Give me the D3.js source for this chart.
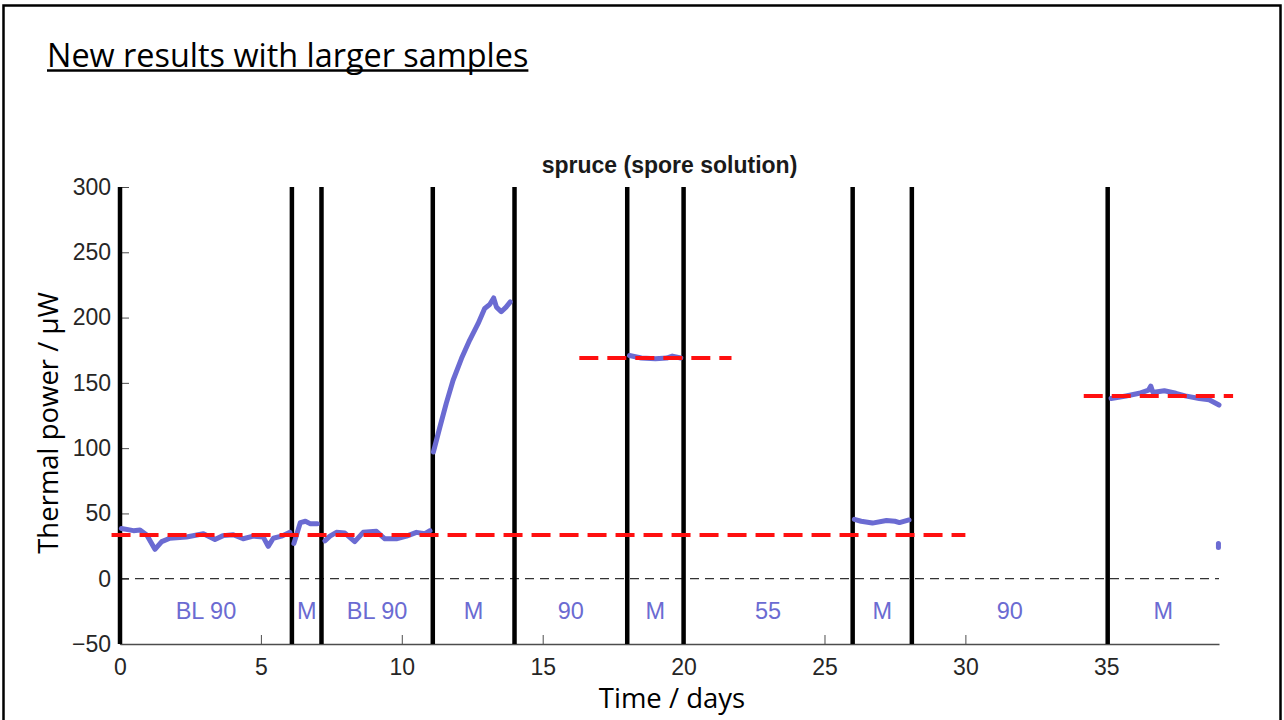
<!DOCTYPE html>
<html>
<head>
<meta charset="utf-8">
<script src="https://cdn.jsdelivr.net/npm/d3@7"></script>
<style>
body { margin: 0; background: #fff; }
svg { display: block; }
</style>
</head>
<body>
<script>
// time (days) where the sample/condition changes
var boundaries = [0, 6.1, 7.15, 11.1, 14.0, 18.0, 20.0, 26.0, 28.1, 35.05];
var segLabels = ["BL 90", "M", "BL 90", "M", "90", "M", "55", "M", "90", "M"];
var xEnd = 39;

// red dashed reference levels (value, from day, to day)
var refLevels = [33.5, 169, 140];
var refStart = [-0.3, 16.3, 34.2];
var refEnd = [30, 21.7, 39.5];

// measured thermal power, one array per run [day, µW]
var seg1 = [[0.05,38.5],[0.48,36.8],[0.71,37.3],[0.95,33.5],[1.24,22.5],[1.48,28.4],[1.77,31],[2.36,32],
  [2.96,34.4],[3.37,30],[3.66,33],[4.02,33.7],[4.37,30.6],[4.73,32.6],[5.08,32],[5.26,24.8],[5.44,31],
  [5.73,32.6],[6.03,35.6]];
var seg2 = [[6.17,27],[6.4,43],[6.58,44],[6.76,42],[7.0,42]];
var seg3 = [[7.27,29],[7.45,32.6],[7.68,35.5],[7.98,35],[8.33,28.4],[8.63,35.5],[9.1,36.3],[9.4,30.6],
  [9.81,30.6],[10.17,32.6],[10.52,35.5],[10.82,34.5],[11.0,36.8]];
var seg4 = [[11.12,97],[11.35,116],[11.58,134.5],[11.82,152],[12.12,168.8],[12.41,182.8],[12.71,195.5],
  [12.94,207],[13.12,210],[13.26,215],[13.36,208],[13.53,204.5],[13.7,208],[13.85,212]];
var seg5 = [[18.08,171],[18.5,169],[19.0,168.5],[19.4,169],[19.6,170.5],[19.9,169]];
var seg6 = [[26.06,45.5],[26.3,44],[26.7,42.6],[27.2,44.6],[27.5,44],[27.66,43],[28.0,45]];
var seg7 = [[35.17,138],[35.7,140],[36.17,142],[36.5,144.5],[36.58,147.5],[36.65,143],[36.76,143],
  [37.06,144],[37.47,142],[37.8,140],[38.3,138],[38.65,137],[39.0,133]];
var seg8 = [[38.98,24],[38.98,27]];
var segments = [seg1, seg2, seg3, seg4, seg5, seg6, seg7, seg8];

var xTicks = [0, 5, 10, 15, 20, 25, 30, 35];
var yTicks = [-50, 0, 50, 100, 150, 200, 250, 300];

var width = 1284, height = 720;
var lineColor = "#6b6bd2";

var svg = d3.select("body").append("svg")
  .attr("width", width)
  .attr("height", height);

// slide frame
svg.append("rect")
  .attr("x", 3.5).attr("y", 5.5)
  .attr("width", 1277).attr("height", 740)
  .attr("fill", "none")
  .attr("stroke", "#000")
  .attr("stroke-width", 2.5);

// slide heading
var heading = svg.append("text")
  .attr("x", 47).attr("y", 67)
  .style("font-family", "'Open Sans'")
  .style("font-size", "32.4px")
  .attr("fill", "#000")
  .text("New results with larger samples");
var hw = heading.node().getComputedTextLength();
svg.append("line")
  .attr("x1", 47).attr("x2", 47 + hw)
  .attr("y1", 70.5).attr("y2", 70.5)
  .attr("stroke", "#000")
  .attr("stroke-width", 2.5);

var x = d3.scaleLinear().domain([0, xEnd]).range([120, 1219]);
var y = d3.scaleLinear().domain([-50, 300]).range([644, 187]);

// axes, matlab style: ticks inside, no box
var xAxis = svg.append("g")
  .attr("transform", "translate(0," + y(-50) + ")")
  .call(d3.axisBottom(x).tickValues(xTicks).tickSizeInner(-9).tickSizeOuter(0).tickPadding(15));
var yAxis = svg.append("g")
  .attr("transform", "translate(" + x(0) + ",0)")
  .call(d3.axisLeft(y).tickValues(yTicks).tickSizeInner(-9).tickSizeOuter(0).tickPadding(9));
[xAxis, yAxis].forEach(function(g) {
  g.select(".domain").attr("stroke", "#4d4d4d").attr("stroke-width", 1.5);
  g.selectAll(".tick line").attr("stroke", "#4d4d4d");
  g.selectAll(".tick text")
    .style("font-family", "'Liberation Sans', Arial")
    .style("font-size", "23px")
    .attr("fill", "#262626");
});
xAxis.selectAll(".tick text").attr("dy", "0.71em");

// chart title
svg.append("text")
  .attr("x", (x(0) + x(xEnd)) / 2).attr("y", 173)
  .attr("text-anchor", "middle")
  .style("font-family", "'Liberation Sans', Arial")
  .style("font-size", "23px")
  .style("font-weight", "bold")
  .attr("fill", "#1a1a1a")
  .text("spruce (spore solution)");

// axis labels
svg.append("text")
  .attr("x", 672).attr("y", 708)
  .attr("text-anchor", "middle")
  .style("font-family", "'Open Sans'")
  .style("font-size", "27.5px")
  .attr("fill", "#000")
  .text("Time / days");
svg.append("text")
  .attr("transform", "translate(58,423) rotate(-90)")
  .attr("text-anchor", "middle")
  .style("font-family", "'Open Sans'")
  .style("font-size", "27.5px")
  .attr("fill", "#000")
  .text("Thermal power / μW");

// zero line
svg.append("line")
  .attr("x1", x(0)).attr("x2", x(xEnd))
  .attr("y1", y(0)).attr("y2", y(0))
  .attr("stroke", "#333")
  .attr("stroke-width", 1.2)
  .attr("stroke-dasharray", "9,6");

// run separators
svg.selectAll("line.sep")
  .data(boundaries)
  .enter().append("line")
  .attr("class", "sep")
  .attr("x1", function(d) { return x(d); })
  .attr("x2", function(d) { return x(d); })
  .attr("y1", y(300)).attr("y2", y(-50))
  .attr("stroke", "#000")
  .attr("stroke-width", 4.5);

// labels centred between separators
var ends = boundaries.slice(1).concat([xEnd]);
svg.selectAll("text.seg")
  .data(segLabels)
  .enter().append("text")
  .attr("class", "seg")
  .attr("x", function(d, i) { return x((boundaries[i] + ends[i]) / 2); })
  .attr("y", 619)
  .attr("text-anchor", "middle")
  .style("font-family", "'Liberation Sans', Arial")
  .style("font-size", "23.5px")
  .attr("fill", lineColor)
  .text(function(d) { return d; });

// measured data
var line = d3.line()
  .x(function(d) { return x(d[0]); })
  .y(function(d) { return y(d[1]); })
  .curve(d3.curveLinear);
svg.selectAll("path.run")
  .data(segments)
  .enter().append("path")
  .attr("class", "run")
  .attr("d", line)
  .attr("fill", "none")
  .attr("stroke", lineColor)
  .attr("stroke-width", 5)
  .attr("stroke-linejoin", "round")
  .attr("stroke-linecap", "round");

// reference levels
svg.selectAll("line.ref")
  .data(refLevels)
  .enter().append("line")
  .attr("class", "ref")
  .attr("x1", function(d, i) { return x(refStart[i]); })
  .attr("x2", function(d, i) { return x(refEnd[i]); })
  .attr("y1", function(d) { return y(d); })
  .attr("y2", function(d) { return y(d); })
  .attr("stroke", "#ff1010")
  .attr("stroke-width", 4)
  .attr("stroke-dasharray", "19,9");
</script>
</body>
</html>
